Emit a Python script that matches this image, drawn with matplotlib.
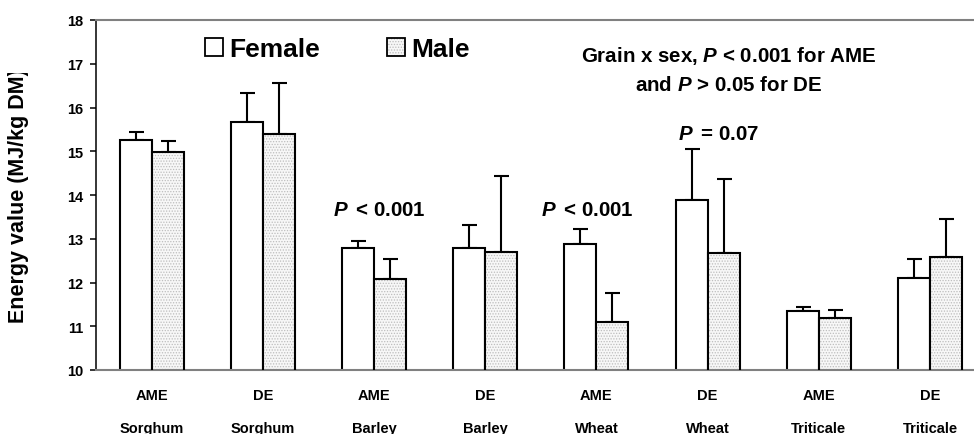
import matplotlib
matplotlib.use("Agg")
import matplotlib.pyplot as plt
import numpy as np
from matplotlib.patches import Rectangle
from matplotlib.transforms import Bbox

plt.rcParams['font.family'] = ['Liberation Sans', 'DejaVu Sans']
plt.rcParams['font.weight'] = 'bold'
plt.rcParams['mathtext.fontset'] = 'custom'
plt.rcParams['mathtext.it'] = 'Liberation Sans:bold:italic'
plt.rcParams['mathtext.rm'] = 'Liberation Sans:bold'
plt.rcParams['hatch.linewidth'] = 0.6

# Energy values (MJ/kg DM) by grain and measure
measures = ["AME", "DE", "AME", "DE", "AME", "DE", "AME", "DE"]
grains = ["Sorghum", "Sorghum", "Barley", "Barley", "Wheat", "Wheat", "Triticale", "Triticale"]
female_mean = [15.26, 15.68, 12.79, 12.79, 12.88, 13.89, 11.34, 12.10]
female_se = [0.17, 0.65, 0.15, 0.52, 0.34, 1.16, 0.11, 0.43]
male_mean = [14.99, 15.39, 12.08, 12.70, 11.09, 12.67, 11.19, 12.59]
male_se = [0.24, 1.16, 0.45, 1.74, 0.67, 1.70, 0.18, 0.86]
y_ticks = [10, 11, 12, 13, 14, 15, 16, 17, 18]

W, H = 974, 435
fig = plt.figure(figsize=(W / 100, H / 100), dpi=100)
ax_l, ax_r, ax_t, ax_b = 96, 974, 21, 371
ax = fig.add_axes([ax_l / W, (H - ax_b) / H, (ax_r - ax_l) / W, (ax_b - ax_t) / H])

x = np.arange(len(measures))
bw = 0.288
xf = x - bw / 2
xm = x + bw / 2

ax.bar(xf, female_mean, width=bw, bottom=0, color='white', edgecolor='black',
       linewidth=1.5, zorder=2)
# stippled fill for male bars, then the black outline on top
ax.bar(xm, male_mean, width=bw, color='#f7f7f7', edgecolor='#bdbdbd',
       hatch='......', linewidth=0, zorder=2)
ax.bar(xm, male_mean, width=bw, color='none', edgecolor='black',
       linewidth=1.5, zorder=3)

zeros = np.zeros(len(x))
ax.errorbar(xf, female_mean, yerr=[zeros, female_se], fmt='none', ecolor='black',
            elinewidth=1.5, capsize=5.4, capthick=1.5, zorder=1)
ax.errorbar(xm, male_mean, yerr=[zeros, male_se], fmt='none', ecolor='black',
            elinewidth=1.5, capsize=5.4, capthick=1.5, zorder=1)

ax.set_ylim(10, 18)
ax.set_xlim(-0.5, (ax_r - ax_l) / 111.2 - 0.5)
ax.set_yticks(y_ticks)
ax.set_yticklabels([str(v) for v in y_ticks], fontsize=10.5, fontweight='bold')
ax.tick_params(axis='y', direction='out', length=4.3, width=1.1, pad=5)
ax.set_xticks([])

ax.spines['right'].set_visible(False)
ax.spines['left'].set_color('black')
ax.spines['left'].set_linewidth(1.1)
for s in ('top', 'bottom'):
    ax.spines[s].set_color('#808080')
    ax.spines[s].set_linewidth(1.5)

# category labels below the axis
xt = ax.get_xaxis_transform()
for i in x:
    ax.text(i, (ax_b - 400) / (ax_b - ax_t), measures[i], transform=xt,
            ha='center', va='baseline', fontsize=10.5, fontweight='bold')
    ax.text(i, (ax_b - 433) / (ax_b - ax_t), grains[i], transform=xt,
            ha='center', va='baseline', fontsize=10.5, fontweight='bold',
            clip_on=False)

# y-axis title, clipped at the top
yl = fig.text(19 / W, (H - 323) / H, "Energy value (MJ/kg DM)", rotation=90,
              ha='center', va='bottom', fontsize=15.5, fontweight='bold')
yl.set_clip_box(Bbox.from_extents(0, 0, 96, H - 74))
yl.set_clip_on(True)

# legend
def axfrac(px, py):
    return ((px - ax_l) / (ax_r - ax_l), (ax_b - py) / (ax_b - ax_t))

for (bx, label, face, hatch, tx) in [(205, "Female", 'white', None, 229),
                                      (387, "Male", '#f7f7f7', '......', 411)]:
    x0, y0 = axfrac(bx, 57)
    x1, y1 = axfrac(bx + 18, 39)
    if hatch:
        ax.add_patch(Rectangle((x0, y0), x1 - x0, y1 - y0, transform=ax.transAxes,
                               facecolor=face, edgecolor='#bdbdbd', hatch=hatch,
                               linewidth=0, clip_on=False))
    ax.add_patch(Rectangle((x0, y0), x1 - x0, y1 - y0, transform=ax.transAxes,
                           facecolor='none' if hatch else face, edgecolor='black',
                           linewidth=1.3, clip_on=False))
    tx0, ty0 = axfrac(tx, 57)
    ax.text(tx0, ty0, label, transform=ax.transAxes, ha='left', va='baseline',
            fontsize=19, fontweight='bold')

# statistical annotations
ax.text(5.19, 17.06, r"Grain x sex, $P$ < 0.001 for AME", ha='center', va='baseline',
        fontsize=14.8, fontweight='bold')
ax.text(5.19, 16.40, r"and $P$ > 0.05 for DE", ha='center', va='baseline',
        fontsize=14.8, fontweight='bold')
ax.text(2.045, 13.54, r"$P\,$ < 0.001", ha='center', va='baseline', fontsize=14.8,
        fontweight='bold')
ax.text(3.916, 13.54, r"$P\,$ < 0.001", ha='center', va='baseline', fontsize=14.8,
        fontweight='bold')
ax.text(5.10, 15.28, r"$P\,$ = 0.07", ha='center', va='baseline', fontsize=14.8,
        fontweight='bold')

fig.savefig("out.png", dpi=100)
